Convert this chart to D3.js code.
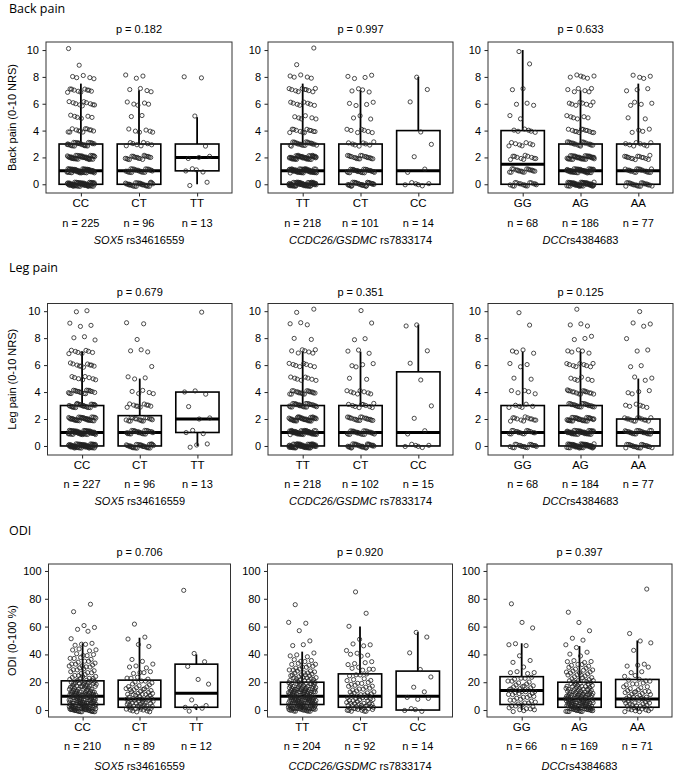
<!DOCTYPE html>
<html><head><meta charset="utf-8">
<script src="https://cdn.jsdelivr.net/npm/d3@7"></script>
<style>
body{margin:0;background:#fff;}
svg{display:block;}
text{font-family:"Liberation Sans",Arial,Helvetica,sans-serif;fill:#000;}
.title{font-family:"Open Sans","Noto Sans",sans-serif;font-size:12.5px;}
</style></head><body>
<svg id="chart" width="675" height="772"></svg>
<script>
// ---------- DATA ----------
const outcomeTitles = ["Back pain", "Leg pain", "ODI"];
const yAxisTitles = ["Back pain (0-10 NRS)", "Leg pain (0-10 NRS)", "ODI (0-100 %)"];
const geneNames = ["SOX5", "CCDC26/GSDMC", "DCC"];
const snpIds = [" rs34616559", " rs7833174", "rs4384683"];
const genotypes = [["CC", "CT", "TT"], ["TT", "CT", "CC"], ["GG", "AG", "AA"]];
const painTicks = [0, 2, 4, 6, 8, 10];
const odiTicks = [0, 20, 40, 60, 80, 100];
const painLevels = [0, 1, 2, 3, 4, 5, 6, 7, 8, 9, 10];

const pBack = ["0.182", "0.997", "0.633"];
const pLeg = ["0.679", "0.351", "0.125"];
const pODI = ["0.706", "0.920", "0.397"];

const nBack = [[225, 96, 13], [218, 101, 14], [68, 186, 77]];
const nLeg = [[227, 96, 13], [218, 102, 15], [68, 184, 77]];
const nODI = [[210, 89, 12], [204, 92, 14], [66, 169, 71]];

// box stats: [lower whisker, q1, median, q3, upper whisker]
const boxBack = [
  [[0, 0, 1, 3, 7.5], [0, 0, 1, 3, 7], [0, 1, 2, 3, 5]],
  [[0, 0, 1, 3, 7.5], [0, 0, 1, 3, 7], [0, 0, 1, 4, 8]],
  [[0, 0, 1.5, 4, 10], [0, 0, 1, 3, 7], [0, 0, 1, 3, 7.5]]
];
const boxLeg = [
  [[0, 0, 1, 3, 7], [0, 0, 1, 2.25, 5], [0, 1, 2, 4, 4]],
  [[0, 0, 1, 3, 7], [0, 0, 1, 3, 7], [0, 0, 1, 5.5, 9]],
  [[0, 0, 1, 3, 7], [0, 0, 1, 3, 7], [0, 0, 1, 2, 5]]
];
const boxODI = [
  [[0, 4, 10, 21, 48], [0, 2, 8, 21.5, 52], [0, 2, 12, 33, 40]],
  [[0, 4, 10, 20, 42], [0, 2, 10, 26, 60], [0, 0, 10, 28, 56]],
  [[0, 4, 14, 24, 48], [0, 2, 8, 20, 46], [0, 2, 8, 22, 50]]
];

// pain: number of patients at each level 0..10
const countsBack = [
  [[60, 55, 40, 25, 12, 6, 10, 10, 5, 1, 1], [28, 22, 18, 8, 6, 2, 5, 4, 3, 0, 0], [2, 4, 3, 1, 0, 1, 0, 0, 2, 0, 0]],
  [[58, 55, 42, 20, 12, 6, 8, 10, 5, 1, 1], [28, 25, 18, 8, 7, 3, 4, 4, 4, 0, 0], [6, 2, 1, 1, 1, 0, 1, 1, 1, 0, 0]],
  [[16, 18, 11, 8, 6, 2, 3, 2, 0, 1, 1], [50, 45, 35, 18, 12, 6, 8, 6, 6, 0, 0], [20, 18, 14, 8, 4, 2, 4, 3, 4, 0, 0]]
];
const countsLeg = [
  [[60, 55, 35, 25, 18, 8, 10, 8, 3, 3, 2], [30, 25, 16, 10, 5, 3, 1, 3, 1, 2, 0], [3, 3, 2, 1, 3, 0, 0, 0, 0, 0, 1]],
  [[58, 52, 35, 25, 18, 8, 8, 7, 2, 3, 2], [28, 25, 18, 10, 8, 2, 4, 3, 2, 1, 1], [6, 2, 1, 1, 0, 1, 1, 1, 0, 2, 0]],
  [[18, 16, 12, 6, 5, 2, 3, 4, 0, 1, 1], [50, 42, 30, 20, 15, 6, 9, 5, 3, 3, 1], [20, 22, 13, 6, 4, 3, 2, 2, 1, 3, 1]]
];
// ODI: [score, number of patients]
const countsODI = [
  [
    [[0,26],[2,18],[4,16],[6,15],[8,14],[10,14],[12,12],[14,11],[16,10],[18,9],[20,9],[22,6],[24,5],[26,4],[28,4],[30,4],[32,5],[34,4],[36,3],[38,3],[40,3],[42,2],[44,2],[46,2],[48,2],[50,1],[56,1],[58,1],[60,1],[62,1],[70,1],[76,1]],
    [[0,9],[2,9],[4,8],[6,8],[8,7],[10,6],[12,6],[14,4],[16,5],[18,4],[20,3],[22,3],[24,2],[26,2],[28,2],[30,2],[32,1],[34,2],[36,1],[46,1],[48,1],[50,1],[52,1],[62,1]],
    [[0,1],[2,4],[6,1],[18,1],[22,1],[32,1],[36,1],[40,1],[86,1]]
  ],
  [
    [[0,20],[2,16],[4,18],[6,16],[8,15],[10,14],[12,14],[14,12],[16,11],[18,10],[20,9],[22,8],[24,6],[26,5],[28,5],[30,4],[32,4],[34,3],[36,3],[38,2],[40,1],[42,1],[46,2],[50,1],[58,1],[62,2],[76,1]],
    [[0,11],[2,8],[4,7],[6,6],[8,6],[10,6],[12,5],[14,4],[16,4],[18,4],[20,3],[22,3],[24,2],[26,2],[28,2],[30,2],[32,2],[34,2],[36,1],[38,1],[40,2],[42,2],[46,1],[48,2],[50,1],[60,1],[70,1],[86,1]],
    [[0,4],[8,2],[10,1],[12,1],[16,1],[24,1],[30,1],[40,1],[52,1],[56,1]]
  ],
  [
    [[0,5],[2,4],[4,4],[6,4],[8,4],[10,4],[12,5],[14,5],[16,5],[18,4],[20,3],[22,3],[24,2],[26,2],[28,2],[30,1],[34,1],[36,1],[40,1],[46,2],[48,1],[60,1],[62,1],[76,1]],
    [[0,20],[2,16],[4,14],[6,14],[8,13],[10,11],[12,10],[14,9],[16,8],[18,7],[20,7],[22,5],[24,5],[26,4],[28,4],[30,4],[32,3],[34,3],[36,2],[38,1],[40,1],[42,1],[46,2],[50,1],[52,1],[58,1],[62,1],[70,1]],
    [[0,8],[2,6],[4,6],[6,6],[8,6],[10,5],[12,5],[14,4],[16,3],[18,3],[20,3],[22,3],[24,2],[28,2],[30,1],[32,2],[34,1],[42,1],[48,1],[50,1],[56,1],[86,1]]
  ]
];

// ---------- LAYOUT ----------
const rows = [
  {title: outcomeTitles[0], ytitle: yAxisTitles[0], p: pBack, n: nBack, box: boxBack,
   pts: countsBack.map(pn => pn.map(g => painLevels.map((v, i) => [v, g[i]]))),
   domain: [-0.65, 10.6], ticks: painTicks, jy: 0.16,
   top: 42, bottom: 193, lefts: [46, 268, 488], rights: [232, 453, 673],
   titleY: 13, pY: 33, catY: 207, nY: 226.5, geneY: 244},
  {title: outcomeTitles[1], ytitle: yAxisTitles[1], p: pLeg, n: nLeg, box: boxLeg,
   pts: countsLeg.map(pn => pn.map(g => painLevels.map((v, i) => [v, g[i]]))),
   domain: [-0.67, 10.57], ticks: painTicks, jy: 0.16,
   top: 303.5, bottom: 455, lefts: [47.5, 268, 488], rights: [232, 453, 673],
   titleY: 272, pY: 296, catY: 469, nY: 487.5, geneY: 505},
  {title: outcomeTitles[2], ytitle: yAxisTitles[2], p: pODI, n: nODI, box: boxODI,
   pts: countsODI,
   domain: [-5, 105], ticks: odiTicks, jy: 1.3,
   top: 564, bottom: 717, lefts: [48.5, 267.5, 487], rights: [230.5, 452.5, 672],
   titleY: 535, pY: 556, catY: 731, nY: 749.5, geneY: 770}
];

const svg = d3.select("#chart");
const frac = v => v - Math.floor(v);

rows.forEach((row, ri) => {
  svg.append("text").attr("class", "title").attr("x", 9).attr("y", row.titleY).text(row.title);
  const y = d3.scaleLinear().domain(row.domain).range([row.bottom, row.top]);
  svg.append("text").attr("transform", `translate(${16},${(row.top + row.bottom) / 2}) rotate(-90)`)
    .attr("text-anchor", "middle").attr("font-size", 11).text(row.ytitle);

  for (let pi = 0; pi < 3; pi++) {
    const L = row.lefts[pi], R = row.rights[pi];
    const cats = genotypes[pi];
    const x = d3.scalePoint().domain(cats).range([L, R]).padding(0.6);
    const step = x.step();
    const g = svg.append("g");
    g.append("text").attr("x", (L + R) / 2).attr("y", row.pY).attr("text-anchor", "middle")
      .attr("font-size", 11).text("p = " + row.p[pi]);
    const ya = g.append("g").attr("transform", `translate(${L},0)`)
      .call(d3.axisLeft(y).tickValues(row.ticks).tickSize(3.5).tickPadding(3.5));
    ya.select(".domain").remove();
    ya.selectAll(".tick line").attr("stroke", "#222").attr("stroke-width", 1);
    ya.selectAll(".tick text").attr("font-size", 11).attr("fill", "#000")
      .attr("font-family", '"Liberation Sans",Arial,sans-serif');
    const xa = g.append("g").attr("transform", `translate(0,${row.bottom})`)
      .call(d3.axisBottom(x).tickSize(3.5).tickFormat(""));
    xa.select(".domain").remove();
    xa.selectAll(".tick line").attr("stroke", "#222").attr("stroke-width", 1);
    cats.forEach((c, ci) => {
      g.append("text").attr("x", x(c)).attr("y", row.catY).attr("text-anchor", "middle")
        .attr("font-size", 11.5).text(c);
      g.append("text").attr("x", x(c)).attr("y", row.nY).attr("text-anchor", "middle")
        .attr("font-size", 11).text("n = " + row.n[pi][ci]);
    });
    const gl = g.append("text").attr("x", (L + R) / 2).attr("y", row.geneY).attr("text-anchor", "middle")
      .attr("font-size", 11);
    gl.append("tspan").attr("font-style", "italic").text(geneNames[pi]);
    gl.append("tspan").text(snpIds[pi]);

    const bw = step * 0.75;
    cats.forEach((c, ci) => {
      const [lo, q1, md, q3, hi] = row.box[pi][ci];
      const cx = x(c);
      if (hi > q3) g.append("line").attr("x1", cx).attr("x2", cx).attr("y1", y(q3)).attr("y2", y(hi))
        .attr("stroke", "#000").attr("stroke-width", 1.8);
      if (lo < q1) g.append("line").attr("x1", cx).attr("x2", cx).attr("y1", y(q1)).attr("y2", y(lo))
        .attr("stroke", "#000").attr("stroke-width", 1.8);
      g.append("rect").attr("x", cx - bw / 2).attr("y", y(q3)).attr("width", bw)
        .attr("height", Math.max(0, y(q1) - y(q3))).attr("fill", "#fff")
        .attr("stroke", "#000").attr("stroke-width", 1.6);
      g.append("line").attr("x1", cx - bw / 2).attr("x2", cx + bw / 2).attr("y1", y(md)).attr("y2", y(md))
        .attr("stroke", "#000").attr("stroke-width", 3);
    });
    cats.forEach((c, ci) => {
      const pts = [];
      let k = 0;
      row.pts[pi][ci].forEach(([v, cnt]) => {
        for (let j = 0; j < cnt; j++) {
          k++;
          const jx = (frac(k * 0.6180339887 + ci * 0.31 + pi * 0.17) - 0.5) * 2 * 0.24 * step;
          const jy = (frac(k * 0.7548776662 + ci * 0.23 + pi * 0.41) - 0.5) * 2 * row.jy;
          pts.push({x: x(c) + jx, y: y(v + jy)});
        }
      });
      g.selectAll(null).data(pts).enter().append("circle")
        .attr("cx", d => d.x).attr("cy", d => d.y).attr("r", 2.1)
        .attr("fill", "none").attr("stroke", "#222").attr("stroke-opacity", 0.9).attr("stroke-width", 0.9);
    });
    g.append("rect").attr("x", L).attr("y", row.top).attr("width", R - L).attr("height", row.bottom - row.top)
      .attr("fill", "none").attr("stroke", "#333").attr("stroke-width", 1);
  }
});
</script>
</body></html>
